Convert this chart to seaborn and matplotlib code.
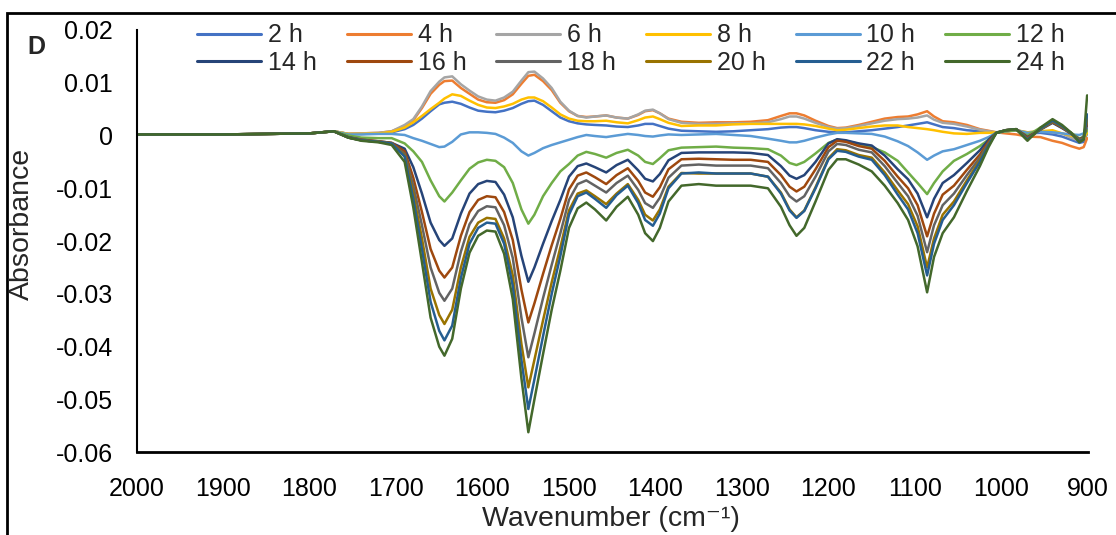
import pandas as pd
import seaborn as sns
import matplotlib.pyplot as plt
from matplotlib.patches import Rectangle
from matplotlib.lines import Line2D

# wavenumbers (cm-1), high to low
wavenumber = [2000, 1900, 1800, 1772, 1755, 1740, 1720, 1705, 1690, 1680,
              1670, 1660, 1650, 1644, 1635, 1625, 1615, 1605, 1595, 1585,
              1575, 1565, 1555, 1547, 1540, 1530, 1520, 1510, 1500, 1490,
              1480, 1470, 1457, 1445, 1432, 1420, 1412, 1403, 1395, 1385,
              1370, 1350, 1330, 1310, 1290, 1270, 1255, 1245, 1237, 1228,
              1215, 1200, 1190, 1180, 1165, 1150, 1135, 1120, 1108, 1097,
              1086, 1078, 1068, 1055, 1040, 1025, 1015, 1006, 995, 983,
              970, 955, 941, 930, 920, 910, 905, 901]

h2 = [.0002, .0002, .0004, .0008, .0003, .0003, .0004, .0006, .0012, .0020,
      .0032, .0046, .0059, .0062, .0064, .0060, .0053, .0047, .0045, .0044,
      .0047, .0052, .0060, .0065, .0066, .0058, .0046, .0034, .0027, .0023,
      .0021, .0020, .0019, .0017, .0016, .0019, .0022, .0022, .0018, .0013,
      .0009, .0008, .0007, .0008, .0010, .0012, .0015, .0016, .0016, .0014,
      .0010, .0007, .0006, .0006, .0008, .0010, .0013, .0016, .0019, .0022,
      .0025, .0021, .0016, .0014, .0010, .0008, .0007, .0006, .0008, .0010,
      .0004, .0005, .0002, -.0002, -.0008, -.0014, -.0012, .0004]

h4 = [.0002, .0002, .0004, .0008, .0003, .0004, .0005, .0008, .0018, .0029,
      .0052, .0079, .0096, .0103, .0104, .0090, .0079, .0068, .0063, .0062,
      .0067, .0078, .0098, .0113, .0115, .0103, .0086, .0062, .0046, .0037,
      .0035, .0036, .0038, .0034, .0032, .0039, .0046, .0048, .0042, .0032,
      .0026, .0024, .0025, .0025, .0026, .0029, .0037, .0042, .0042, .0038,
      .0028, .0018, .0014, .0015, .0020, .0026, .0032, .0035, .0036, .0040,
      .0046, .0036, .0027, .0025, .0020, .0012, .0009, .0006, .0004, .0002,
      -.0002, -.0003, -.0010, -.0014, -.0020, -.0025, -.0022, -.0005]

h6 = [.0002, .0002, .0004, .0008, .0003, .0004, .0005, .0008, .0020, .0031,
      .0055, .0084, .0102, .0110, .0112, .0097, .0085, .0074, .0068, .0066,
      .0072, .0083, .0104, .0120, .0121, .0108, .0090, .0064, .0047, .0037,
      .0034, .0036, .0038, .0034, .0032, .0040, .0047, .0049, .0042, .0031,
      .0024, .0022, .0022, .0023, .0023, .0025, .0031, .0036, .0036, .0032,
      .0024, .0016, .0013, .0014, .0018, .0023, .0028, .0031, .0032, .0034,
      .0038, .0030, .0024, .0022, .0017, .0011, .0008, .0006, .0008, .0010,
      .0006, .0008, .0006, .0004, -.0004, -.0010, -.0008, .0008]

h8 = [.0002, .0002, .0004, .0008, .0003, .0003, .0004, .0007, .0015, .0025,
      .0037, .0050, .0062, .0070, .0078, .0075, .0066, .0058, .0053, .0052,
      .0055, .0060, .0068, .0072, .0072, .0065, .0053, .0040, .0032, .0028,
      .0027, .0027, .0028, .0025, .0023, .0029, .0034, .0036, .0031, .0024,
      .0018, .0019, .0019, .0021, .0022, .0022, .0022, .0022, .0022, .0021,
      .0018, .0013, .0010, .0011, .0014, .0017, .0019, .0019, .0016, .0014,
      .0012, .0010, .0007, .0004, .0003, .0005, .0005, .0006, .0008, .0010,
      .0006, .0008, .0010, .0004, .0000, -.0005, -.0006, .0005]

h10 = [.0002, .0002, .0004, .0008, .0002, .0002, .0003, .0003, .0001, -.0005,
       -.0010, -.0016, -.0022, -.0021, -.0012, .0002, .0006, .0006, .0005, .0003,
       -.0004, -.0014, -.0030, -.0038, -.0033, -.0024, -.0018, -.0013, -.0008, -.0003,
       .0001, -.0001, -.0003, .0000, .0003, .0001, -.0001, -.0002, .0000, .0002,
       .0001, .0002, .0003, .0001, -.0001, -.0006, -.0010, -.0013, -.0013, -.0010,
       -.0004, .0002, .0005, .0005, .0004, .0003, -.0002, -.0011, -.0020, -.0032,
       -.0046, -.0038, -.0030, -.0026, -.0018, -.0010, -.0003, .0005, .0008, .0010,
       .0005, .0007, .0006, .0004, .0002, .0001, .0004, .0012]

h12 = [.0002, .0002, .0004, .0008, .0000, -.0004, -.0005, -.0005, -.0015, -.0030,
       -.0050, -.0085, -.0115, -.0125, -.0108, -.0085, -.0063, -.0051, -.0046, -.0048,
       -.0060, -.0090, -.0140, -.0167, -.0150, -.0115, -.0090, -.0068, -.0054, -.0038,
       -.0031, -.0035, -.0042, -.0033, -.0027, -.0038, -.0050, -.0054, -.0043, -.0028,
       -.0023, -.0022, -.0021, -.0023, -.0024, -.0026, -.0038, -.0052, -.0056, -.0050,
       -.0034, -.0014, -.0008, -.0010, -.0016, -.0022, -.0032, -.0048, -.0070, -.0090,
       -.0111, -.0090, -.0068, -.0048, -.0035, -.0020, -.0008, .0005, .0008, .0010,
       .0000, .0015, .0025, .0015, .0006, -.0006, -.0002, .0010]

h14 = [.0002, .0002, .0004, .0008, -.0003, -.0008, -.0011, -.0014, -.0025, -.0060,
       -.0110, -.0165, -.0198, -.0209, -.0195, -.0148, -.0110, -.0092, -.0086, -.0088,
       -.0112, -.0155, -.0228, -.0277, -.0250, -.0205, -.0162, -.0122, -.0078, -.0058,
       -.0053, -.0060, -.0070, -.0056, -.0046, -.0066, -.0082, -.0087, -.0073, -.0047,
       -.0033, -.0032, -.0032, -.0032, -.0033, -.0037, -.0058, -.0076, -.0082, -.0075,
       -.0050, -.0015, -.0007, -.0009, -.0015, -.0019, -.0038, -.0064, -.0083, -.0110,
       -.0155, -.0120, -.0090, -.0075, -.0052, -.0028, -.0008, .0005, .0010, .0012,
       -.0003, .0011, .0024, .0014, .0004, -.0007, -.0003, .0020]

h16 = [.0002, .0002, .0004, .0008, -.0004, -.0008, -.0011, -.0014, -.0030, -.0080,
       -.0145, -.0215, -.0256, -.0269, -.0250, -.0190, -.0145, -.0122, -.0115, -.0117,
       -.0145, -.0198, -.0292, -.0354, -.0318, -.0262, -.0208, -.0158, -.0102, -.0076,
       -.0070, -.0079, -.0092, -.0075, -.0062, -.0086, -.0108, -.0116, -.0098, -.0064,
       -.0045, -.0044, -.0045, -.0046, -.0046, -.0050, -.0075, -.0097, -.0106, -.0097,
       -.0064, -.0022, -.0010, -.0012, -.0020, -.0025, -.0048, -.0078, -.0100, -.0132,
       -.0191, -.0148, -.0112, -.0095, -.0065, -.0036, -.0012, .0005, .0010, .0012,
       -.0004, .0012, .0025, .0015, .0004, -.0008, -.0004, .0025]

h18 = [.0002, .0002, .0004, .0008, -.0004, -.0009, -.0012, -.0015, -.0035, -.0095,
       -.0170, -.0250, -.0298, -.0313, -.0290, -.0220, -.0168, -.0143, -.0134, -.0136,
       -.0170, -.0232, -.0345, -.0420, -.0375, -.0308, -.0245, -.0185, -.0122, -.0092,
       -.0085, -.0095, -.0108, -.0090, -.0076, -.0103, -.0128, -.0137, -.0118, -.0080,
       -.0057, -.0055, -.0057, -.0057, -.0057, -.0062, -.0090, -.0115, -.0125, -.0115,
       -.0078, -.0030, -.0016, -.0018, -.0027, -.0032, -.0058, -.0090, -.0115, -.0152,
       -.0221, -.0170, -.0132, -.0110, -.0075, -.0042, -.0015, .0005, .0010, .0012,
       -.0006, .0012, .0026, .0016, .0005, -.0009, -.0005, .0030]

h20 = [.0002, .0002, .0004, .0008, -.0004, -.0009, -.0012, -.0015, -.0038, -.0110,
       -.0195, -.0290, -.0340, -.0357, -.0330, -.0250, -.0192, -.0165, -.0156, -.0158,
       -.0195, -.0265, -.0395, -.0477, -.0425, -.0350, -.0278, -.0212, -.0142, -.0110,
       -.0104, -.0115, -.0130, -.0110, -.0092, -.0122, -.0150, -.0161, -.0140, -.0097,
       -.0071, -.0072, -.0072, -.0072, -.0072, -.0078, -.0108, -.0140, -.0155, -.0142,
       -.0098, -.0043, -.0026, -.0028, -.0037, -.0042, -.0070, -.0104, -.0130, -.0172,
       -.0250, -.0195, -.0150, -.0125, -.0085, -.0047, -.0017, .0005, .0010, .0012,
       -.0008, .0012, .0027, .0017, .0005, -.0010, -.0006, .0035]

h22 = [.0002, .0002, .0004, .0008, -.0004, -.0009, -.0012, -.0015, -.0040, -.0120,
       -.0215, -.0315, -.0370, -.0388, -.0360, -.0270, -.0205, -.0175, -.0165, -.0167,
       -.0205, -.0285, -.0425, -.0518, -.0462, -.0380, -.0300, -.0228, -.0150, -.0115,
       -.0108, -.0120, -.0137, -.0113, -.0095, -.0128, -.0160, -.0171, -.0148, -.0100,
       -.0072, -.0070, -.0072, -.0072, -.0072, -.0078, -.0110, -.0142, -.0156, -.0143,
       -.0100, -.0045, -.0029, -.0031, -.0040, -.0046, -.0075, -.0112, -.0140, -.0185,
       -.0265, -.0205, -.0160, -.0132, -.0090, -.0050, -.0018, .0005, .0010, .0012,
       -.0008, .0013, .0028, .0018, .0005, -.0011, -.0007, .0040]

h24 = [.0002, .0002, .0004, .0008, -.0004, -.0010, -.0013, -.0018, -.0050, -.0136,
       -.0240, -.0345, -.0400, -.0417, -.0385, -.0290, -.0222, -.0190, -.0180, -.0182,
       -.0224, -.0310, -.0460, -.0562, -.0500, -.0414, -.0330, -.0256, -.0175, -.0138,
       -.0127, -.0140, -.0161, -.0135, -.0116, -.0150, -.0185, -.0200, -.0175, -.0125,
       -.0095, -.0092, -.0095, -.0095, -.0095, -.0100, -.0135, -.0170, -.0190, -.0175,
       -.0125, -.0065, -.0045, -.0045, -.0055, -.0068, -.0095, -.0128, -.0160, -.0210,
       -.0297, -.0230, -.0185, -.0155, -.0105, -.0058, -.0022, .0005, .0010, .0012,
       -.0010, .0015, .0031, .0020, .0006, -.0013, -.0008, .0076]

labels = ['2 h', '4 h', '6 h', '8 h', '10 h', '12 h',
          '14 h', '16 h', '18 h', '20 h', '22 h', '24 h']
colors = ['#4472C4', '#ED7D31', '#A5A5A5', '#FFC000', '#5B9BD5', '#70AD47',
          '#264478', '#9E480E', '#636363', '#997300', '#255E91', '#43682B']
series = [h2, h4, h6, h8, h10, h12, h14, h16, h18, h20, h22, h24]

x_ticks = [2000, 1900, 1800, 1700, 1600, 1500, 1400, 1300, 1200, 1100, 1000, 900]
y_ticks = [0.02, 0.01, 0, -0.01, -0.02, -0.03, -0.04, -0.05, -0.06]
y_tick_labels = ['0.02', '0.01', '0', '-0.01', '-0.02', '-0.03', '-0.04', '-0.05', '-0.06']

frames = []
for lab, vals in zip(labels, series):
    frames.append(pd.DataFrame({'Wavenumber': wavenumber, 'Absorbance': vals, 'Time': lab}))
df = pd.concat(frames, ignore_index=True)

sns.set_style("white")
plt.rcParams['font.family'] = ['Liberation Sans', 'DejaVu Sans']

W, H = 1116, 535
fig = plt.figure(figsize=(W / 100, H / 100), dpi=100)
ax = fig.add_axes([136.5 / W, 1 - 452.3 / H, (1088 - 136.5) / W, (452.3 - 29.9) / H])

sns.lineplot(data=df, x='Wavenumber', y='Absorbance', hue='Time', hue_order=labels,
             palette=colors, sort=False, estimator=None, linewidth=1.8,
             legend=False, ax=ax)

ax.set_xlim(2000, 900)
ax.set_ylim(-0.06, 0.02)
ax.set_xticks(x_ticks)
ax.set_xticklabels([str(t) for t in x_ticks])
ax.set_yticks(y_ticks)
ax.set_yticklabels(y_tick_labels)
ax.tick_params(axis='both', length=0, labelsize=18, colors='black')
ax.tick_params(axis='y', pad=17)
ax.tick_params(axis='x', pad=18)
ax.set_xlabel('')
ax.set_ylabel('')

for side in ['top', 'right']:
    ax.spines[side].set_visible(False)
ax.spines['left'].set_linewidth(1.5)
ax.spines['bottom'].set_linewidth(2.0)
ax.spines['left'].set_color('black')
ax.spines['bottom'].set_color('black')

# legend: two rows of six, filled row by row
order = [0, 6, 1, 7, 2, 8, 3, 9, 4, 10, 5, 11]
handles = [Line2D([], [], color=colors[i], lw=2.2) for i in order]
ax.legend(handles, [labels[i] for i in order], ncol=6, loc='center',
          bbox_to_anchor=(631 / W, 1 - 49 / H), bbox_transform=fig.transFigure,
          frameon=False, fontsize=18, handlelength=2.56, handletextpad=0.27,
          columnspacing=1.2, labelspacing=0.12, borderpad=0)

fig.text(22 / W, 1 - 224 / H, 'Absorbance', rotation=90, ha='center', va='center', fontsize=20.5)
fig.text(611 / W, 1 - 519 / H, 'Wavenumber (cm⁻¹)', ha='center', va='center', fontsize=20.5)
fig.text(36.7 / W, 1 - 46.7 / H, 'D', ha='center', va='center', fontsize=18, fontweight='bold')

# outer chart frame, cut off at the right and bottom like the source
fig.patches.append(Rectangle((7 / W, -0.1), 1.2, 1.1 - 12.7 / H, transform=fig.transFigure,
                             fill=False, edgecolor='black', linewidth=2.0))

fig.savefig('out.png', dpi=100)
